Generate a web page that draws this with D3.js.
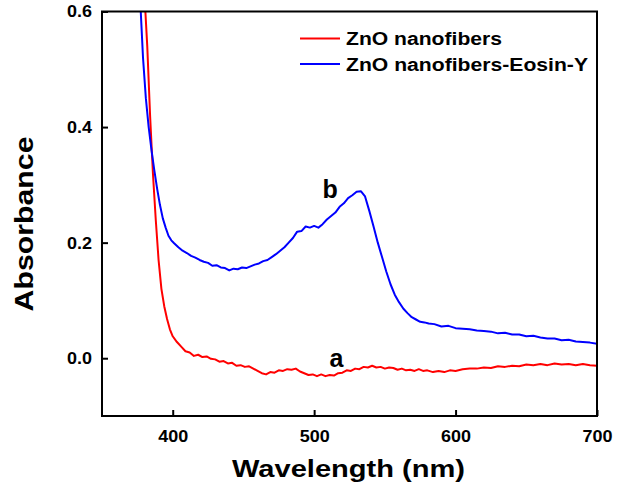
<!DOCTYPE html>
<html>
<head>
<meta charset="utf-8">
<script src="https://cdn.jsdelivr.net/npm/d3@7"></script>
<style>
  body { margin: 0; background: #fff; }
  text { font-family: "Liberation Sans", Arial, sans-serif; font-weight: bold; }
</style>
</head>
<body>
<div id="chart"></div>
<script>
// data (ZnO nanofibers = a, with Eosin-Y = b)
const redWl = [378, 380, 382, 384, 386, 388, 390, 392, 394, 396, 398, 400, 403, 406, 409, 412, 415, 418, 421, 424,
  427, 430, 433, 436, 439, 442, 445, 448, 451, 454, 457, 460, 463, 466, 469, 472, 475, 478, 481, 484,
  487, 490, 493, 496, 499, 502, 505, 508, 511, 514, 517, 520, 523, 526, 529, 532, 535, 538, 541, 544,
  547, 550, 553, 556, 559, 562, 565, 568, 571, 574, 577, 580, 584, 588, 592, 596, 600, 605, 610, 615,
  620, 625, 630, 635, 640, 645, 650, 655, 660, 665, 670, 675, 680, 685, 690, 695, 700];
const redAbs = [0.72, 0.63, 0.54, 0.42, 0.32, 0.24, 0.17, 0.12, 0.09, 0.068, 0.05, 0.038, 0.028, 0.02, 0.012, 0.01, 0.004, 0.006, 0.002, 0.003,
  -0.001, -0.002, -0.006, -0.005, -0.009, -0.008, -0.013, -0.012, -0.015, -0.014, -0.018, -0.022, -0.026, -0.028, -0.024, -0.025, -0.021, -0.022, -0.019, -0.02,
  -0.018, -0.023, -0.026, -0.029, -0.028, -0.031, -0.028, -0.031, -0.029, -0.03, -0.026, -0.025, -0.021, -0.022, -0.018, -0.019, -0.015, -0.016, -0.013, -0.016,
  -0.015, -0.018, -0.016, -0.017, -0.02, -0.018, -0.021, -0.02, -0.022, -0.019, -0.022, -0.021, -0.024, -0.022, -0.024, -0.021, -0.022, -0.019, -0.018, -0.018,
  -0.016, -0.017, -0.014, -0.015, -0.013, -0.014, -0.011, -0.012, -0.01, -0.012, -0.009, -0.011, -0.01, -0.012, -0.01, -0.012, -0.013];

const blueWl = [375, 377, 379, 381, 383, 385, 387, 389, 391, 393, 395, 397, 399, 401, 404, 407, 410, 413, 416, 419,
  422, 425, 428, 431, 434, 437, 440, 443, 446, 449, 452, 455, 458, 461, 464, 467, 470, 473, 476, 479,
  482, 485, 488, 491, 494, 497, 500, 503, 506, 509, 512, 515, 518, 521, 524, 527, 530, 533, 536, 539,
  542, 545, 548, 551, 554, 557, 560, 563, 566, 569, 572, 575, 578, 581, 585, 590, 595, 600, 605, 610,
  615, 620, 625, 630, 635, 640, 645, 650, 655, 660, 665, 670, 675, 680, 685, 690, 695, 700];
const blueAbs = [0.72, 0.62, 0.52, 0.45, 0.40, 0.36, 0.325, 0.293, 0.265, 0.242, 0.226, 0.212, 0.204, 0.199, 0.192, 0.186, 0.182, 0.177, 0.174, 0.17,
  0.167, 0.165, 0.16, 0.161, 0.157, 0.156, 0.152, 0.155, 0.154, 0.157, 0.156, 0.159, 0.162, 0.164, 0.168, 0.17, 0.175, 0.18, 0.186, 0.192,
  0.2, 0.208, 0.219, 0.22, 0.228, 0.226, 0.229, 0.226, 0.232, 0.24, 0.246, 0.252, 0.262, 0.268, 0.277, 0.282, 0.288, 0.289, 0.28, 0.255,
  0.228, 0.2, 0.175, 0.15, 0.128, 0.11, 0.097, 0.086, 0.078, 0.071, 0.067, 0.063, 0.062, 0.06, 0.059, 0.055, 0.056, 0.052, 0.051, 0.05,
  0.048, 0.047, 0.046, 0.043, 0.044, 0.041, 0.041, 0.038, 0.039, 0.036, 0.034, 0.034, 0.031, 0.032, 0.029, 0.028, 0.027, 0.025];

const xTicks = [400, 500, 600, 700];
const yTicks = [0.0, 0.2, 0.4, 0.6];
const seriesNames = ["ZnO nanofibers", "ZnO nanofibers-Eosin-Y"];
const seriesColors = ["#ff0000", "#0000ff"];

// set up
const W = 626, H = 490;
const margin = { top: 11.5, right: 29, bottom: 74, left: 102 };
const width = W - margin.left - margin.right;
const height = H - margin.top - margin.bottom;

const svg = d3.select('#chart').append('svg')
    .attr('width', W)
    .attr('height', H);

const g = svg.append('g')
    .attr('transform', `translate(${margin.left},${margin.top})`);

// scales
const x = d3.scaleLinear().domain([350, 700]).range([0, width]);
const y = d3.scaleLinear().domain([-0.1, 0.6]).range([height, 0]);

// clip so the steep edge stops at the frame
g.append('clipPath').attr('id', 'plot-clip')
  .append('rect').attr('width', width).attr('height', height);

const line = d3.line()
    .x(d => x(d[0]))
    .y(d => y(d[1]));

const series = [
  d3.zip(redWl, redAbs),
  d3.zip(blueWl, blueAbs)
];

g.append('g').attr('clip-path', 'url(#plot-clip)')
  .selectAll('path')
  .data(series)
  .join('path')
    .attr('d', line)
    .attr('fill', 'none')
    .attr('stroke', (d, i) => seriesColors[i])
    .attr('stroke-width', 2)
    .attr('stroke-linejoin', 'round');

// axes, ticks pointing inward
const xAxis = g.append('g')
    .attr('transform', `translate(0,${height})`)
    .call(d3.axisBottom(x).tickValues(xTicks).tickSize(-6).tickPadding(14).tickFormat(d3.format('d')));
xAxis.selectAll('text')
    .attr('font-size', '17px')
    .attr('fill', '#000')
    .attr('textLength', 30)
    .attr('lengthAdjust', 'spacingAndGlyphs');

const yAxis = g.append('g')
    .call(d3.axisLeft(y).tickValues(yTicks).tickSize(-6).tickPadding(10).tickFormat(d3.format('.1f')));
yAxis.selectAll('text')
    .attr('font-size', '17px')
    .attr('fill', '#000')
    .attr('textLength', 25)
    .attr('lengthAdjust', 'spacingAndGlyphs');

g.selectAll('.domain').remove();
g.selectAll('.tick line').attr('stroke', '#000').attr('stroke-width', 2);

// frame
g.append('rect')
    .attr('width', width)
    .attr('height', height)
    .attr('fill', 'none')
    .attr('stroke', '#000')
    .attr('stroke-width', 2);

// axis titles
svg.append('text')
    .attr('x', 348.5)
    .attr('y', 477)
    .attr('text-anchor', 'middle')
    .attr('font-size', '24px')
    .attr('textLength', 233)
    .attr('lengthAdjust', 'spacingAndGlyphs')
    .text('Wavelength (nm)');

svg.append('text')
    .attr('transform', 'translate(33,224) rotate(-90)')
    .attr('text-anchor', 'middle')
    .attr('font-size', '25px')
    .attr('textLength', 175)
    .attr('lengthAdjust', 'spacingAndGlyphs')
    .text('Absorbance');

// curve labels
g.append('text')
    .attr('x', x(530) - 34)
    .attr('y', y(0.29) + 7.5)
    .attr('font-size', '25px')
    .text('b');
g.append('text')
    .attr('x', x(525) - 20)
    .attr('y', y(-0.015))
    .attr('font-size', '25px')
    .text('a');

// legend
const legend = svg.append('g');
const legendRows = legend.selectAll('g')
  .data(seriesNames)
  .join('g')
    .attr('transform', (d, i) => `translate(300,${38.5 + i * 25.5})`);
legendRows.append('line')
    .attr('x1', 0).attr('x2', 40)
    .attr('stroke', (d, i) => seriesColors[i])
    .attr('stroke-width', 2);
legendRows.append('text')
    .attr('x', 46)
    .attr('y', 6.5)
    .attr('font-size', '18px')
    .attr('textLength', (d, i) => [156, 242][i])
    .attr('lengthAdjust', 'spacingAndGlyphs')
    .text(d => d);
</script>
</body>
</html>
